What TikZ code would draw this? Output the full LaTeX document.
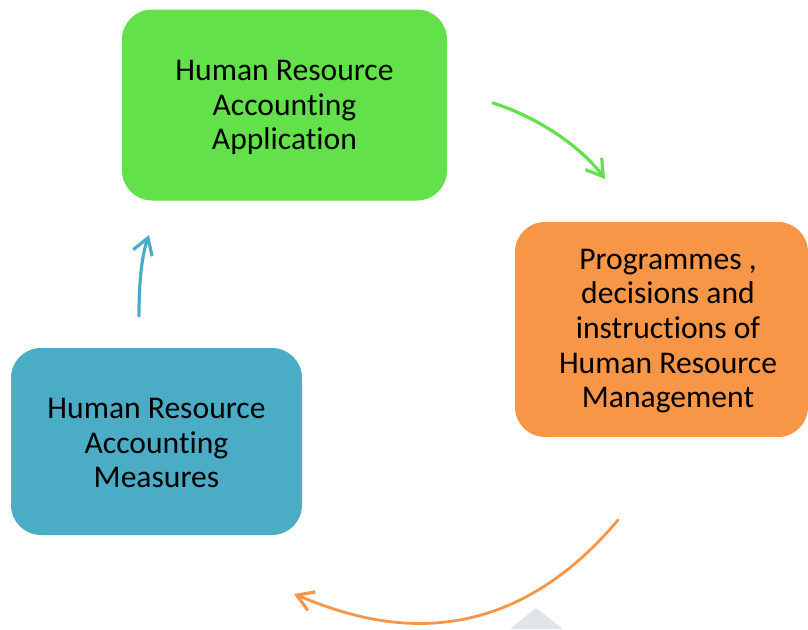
\documentclass[tikz,border=0pt]{standalone}
\usepackage{fontspec}
\setmainfont{Carlito}[Ligatures=NoCommon]
\usetikzlibrary{arrows.meta}
\definecolor{appgreen}{RGB}{98,225,74}
\definecolor{mgmtorange}{RGB}{247,150,70}
\definecolor{measblue}{RGB}{75,172,198}
\definecolor{markgray}{RGB}{222,228,231}
\begin{document}
\begin{tikzpicture}[x=1pt,y=-1pt,
  box/.style={rounded corners=30pt,inner sep=0pt,align=center,
    font=\fontsize{31.6}{34.7}\selectfont},
  boxtext/.style={align=center,inner sep=0pt,font=\fontsize{31.6}{34.7}\selectfont},
  cycle arrow/.style={line width=3.2pt,line cap=round,
    -{Straight Barb[length=16pt,width=20pt,line width=3.2pt]}}]
\useasboundingbox (0,0) rectangle (808,629);

% the three stages
\node[box,fill=appgreen,minimum width=325pt,minimum height=191pt]
  (app) at (284.5,105) {};
\node[boxtext] (apptext) at (284.5,107.5) {Human Resource\\Accounting\\Application};
\node[box,fill=mgmtorange,minimum width=293pt,minimum height=215pt]
  (mgmt) at (661.5,329.5) {};
\node[boxtext] (mgmttext) at (668,331)
  {Programmes ,\\decisions and\\instructions of\\Human Resource\\Management};
\node[box,fill=measblue,minimum width=291pt,minimum height=187pt]
  (meas) at (156.5,441.5) {};
\node[boxtext] (meastext) at (156.5,443) {Human Resource\\Accounting\\Measures};

% faint mark at the lower edge
\fill[markgray] (510,629) -- (536,608) -- (563,629) -- cycle;

% arrow ends
\coordinate (g0) at (493,103);
\coordinate (g1) at (605,179);
\coordinate (o0) at (618,520);
\coordinate (o1) at (294,594);
\coordinate (b0) at (139,316);
\coordinate (b1) at (149,235);

% arrows of the cycle
\draw[cycle arrow,appgreen] (g0) .. controls (540,118) and (582,148) .. (g1);
\draw[cycle arrow,mgmtorange,line width=2.8pt] (o0) .. controls (490,672) and (353,618) .. (o1);
\draw[cycle arrow,measblue] (b0) .. controls (139,280) and (142,255) .. (b1);
\end{tikzpicture}
\end{document}
